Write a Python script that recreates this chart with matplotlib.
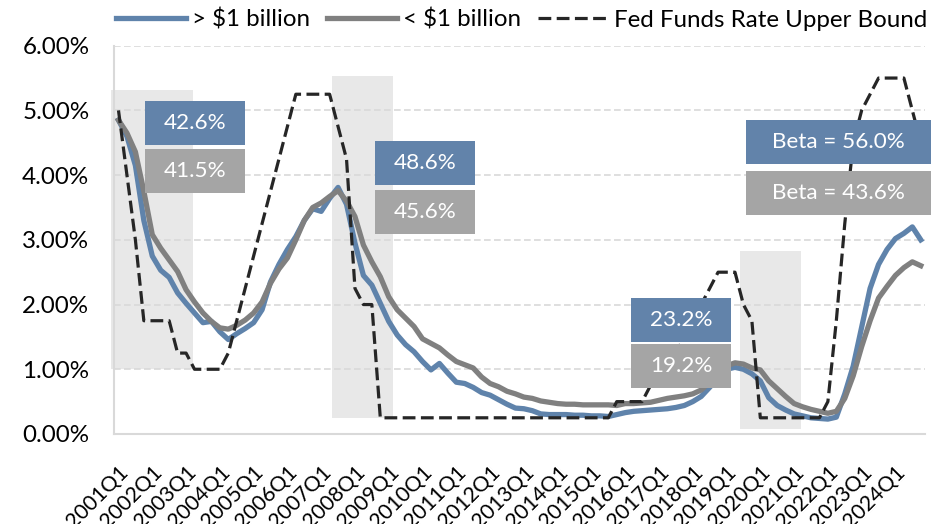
import numpy as np
import matplotlib
matplotlib.use('Agg')
import matplotlib.pyplot as plt
from matplotlib.patches import Rectangle
from matplotlib.ticker import FuncFormatter

plt.rcParams['font.family'] = ['Lato', 'DejaVu Sans']

# DATA (quarterly, 2001Q1 - 2024Q4), values in percent
quarters = [f'{yr}Q{q}' for yr in range(2001, 2025) for q in range(1, 5)]

large_bank = [4.85, 4.60, 4.15, 3.30, 2.75, 2.53, 2.42, 2.18, 2.02, 1.87,
              1.72, 1.74, 1.58, 1.46, 1.55, 1.63, 1.72, 1.92, 2.35, 2.62,
              2.85, 3.05, 3.30, 3.48, 3.44, 3.64, 3.81, 3.55, 2.95, 2.45,
              2.30, 2.02, 1.74, 1.53, 1.38, 1.27, 1.12, 0.99, 1.09, 0.94,
              0.80, 0.78, 0.72, 0.64, 0.60, 0.53, 0.46, 0.40, 0.39, 0.36,
              0.31, 0.30, 0.30, 0.30, 0.29, 0.29, 0.28, 0.28, 0.27, 0.30,
              0.33, 0.35, 0.36, 0.37, 0.38, 0.39, 0.41, 0.44, 0.50, 0.58,
              0.72, 0.87, 1.00, 1.03, 1.00, 0.93, 0.82, 0.56, 0.44, 0.37,
              0.31, 0.28, 0.25, 0.24, 0.23, 0.26, 0.62, 1.05, 1.65, 2.25,
              2.62, 2.85, 3.02, 3.10, 3.20, 3.00]

small_bank = [4.85, 4.65, 4.36, 3.75, 3.08, 2.87, 2.69, 2.51, 2.23, 2.04,
              1.87, 1.74, 1.64, 1.62, 1.68, 1.76, 1.87, 2.04, 2.33, 2.55,
              2.72, 3.00, 3.30, 3.50, 3.57, 3.67, 3.76, 3.60, 3.36, 2.92,
              2.66, 2.43, 2.12, 1.92, 1.79, 1.66, 1.47, 1.40, 1.33, 1.22,
              1.12, 1.07, 1.02, 0.88, 0.78, 0.73, 0.66, 0.62, 0.57, 0.55,
              0.51, 0.49, 0.47, 0.46, 0.46, 0.45, 0.45, 0.45, 0.45, 0.44,
              0.47, 0.47, 0.48, 0.49, 0.52, 0.55, 0.57, 0.59, 0.62, 0.68,
              0.80, 0.92, 1.05, 1.10, 1.08, 1.02, 0.99, 0.82, 0.70, 0.58,
              0.47, 0.42, 0.38, 0.35, 0.32, 0.35, 0.55, 0.90, 1.35, 1.75,
              2.10, 2.28, 2.45, 2.57, 2.66, 2.60]

fed_upper = [5.00, 4.00, 3.00, 1.75, 1.75, 1.75, 1.75, 1.25, 1.25, 1.00,
             1.00, 1.00, 1.00, 1.25, 1.75, 2.25, 2.75, 3.25, 3.75, 4.25,
             4.75, 5.25, 5.25, 5.25, 5.25, 5.25, 4.75, 4.25, 2.25, 2.00,
             2.00, 0.25, 0.25, 0.25, 0.25, 0.25, 0.25, 0.25, 0.25, 0.25,
             0.25, 0.25, 0.25, 0.25, 0.25, 0.25, 0.25, 0.25, 0.25, 0.25,
             0.25, 0.25, 0.25, 0.25, 0.25, 0.25, 0.25, 0.25, 0.25, 0.50,
             0.50, 0.50, 0.50, 0.75, 1.00, 1.25, 1.25, 1.50, 1.75, 2.00,
             2.25, 2.50, 2.50, 2.50, 2.00, 1.75, 0.25, 0.25, 0.25, 0.25,
             0.25, 0.25, 0.25, 0.25, 0.50, 1.75, 3.25, 4.50, 5.00, 5.25,
             5.50, 5.50, 5.50, 5.50, 5.00, 4.50]

# cycle shading (quarter index units, percent)
shade_left = [-0.9, 25.3, 73.6]
shade_right = [8.8, 32.5, 80.8]
shade_bottom = [1.0, 0.24, 0.08]
shade_top = [5.32, 5.53, 2.83]

# beta labels
box_labels_large = ['42.6%', '48.6%', '23.2%', 'Beta = 56.0%']
box_labels_small = ['41.5%', '45.6%', '19.2%', 'Beta = 43.6%']
box_left = [3.1, 30.35, 60.7, 74.35]
box_right = [15.0, 42.2, 72.55, 96.25]
box_top_large = [5.15, 4.53, 2.10, 4.85]
box_top_small = [4.40, 3.77, 1.39, 4.06]
box_height = 0.68

blue = '#5F83AB'
grey = '#808080'

fig = plt.figure(figsize=(9.46, 5.24), dpi=100)
ax = fig.add_axes([0.1208, 0.1718, 0.8570, 0.7410])

x = np.arange(len(quarters))

widths = np.array(shade_right) - np.array(shade_left)
centers = np.array(shade_left) + widths / 2
ax.bar(centers, np.array(shade_top) - np.array(shade_bottom), width=widths,
       bottom=shade_bottom, color='#E8E8E8', zorder=0.2, clip_on=False)

l1, = ax.plot(x, large_bank, color=blue, lw=3.8, solid_joinstyle='round', zorder=3)
l2, = ax.plot(x, small_bank, color=grey, lw=3.8, solid_joinstyle='round', zorder=4)
l3, = ax.plot(x, fed_upper, color='#262626', lw=2.3, dashes=(4, 1.7), zorder=5)

for i in range(len(box_left)):
    w = box_right[i] - box_left[i]
    for top, lab, col in [(box_top_large[i], box_labels_large[i], '#6283AA'),
                          (box_top_small[i], box_labels_small[i], '#A5A5A5')]:
        ax.add_patch(Rectangle((box_left[i], top - box_height), w, box_height,
                               facecolor=col, edgecolor='none', zorder=6, clip_on=False))
        ax.text(box_left[i] + w / 2, top - box_height / 2, lab, color='white',
                ha='center', va='center', fontsize=16.2, zorder=7, clip_on=False)

ax.set_xlim(-0.5, len(quarters) - 0.5)
ax.set_ylim(0, 6)
ax.set_yticks(np.arange(0, 7, 1))
ax.yaxis.set_major_formatter(FuncFormatter(lambda v, _: f'{v:.2f}%'))
ax.set_xticks(x[::4])
ax.set_xticklabels(quarters[::4], rotation=45, ha='right', va='top',
                   rotation_mode='anchor', fontsize=15.3)

ax.set_axisbelow(True)
ax.yaxis.grid(True, color='#D9D9D9', linestyle=(0, (4, 2)), lw=1.2)
for s in ['top', 'right']:
    ax.spines[s].set_visible(False)
for s in ['left', 'bottom']:
    ax.spines[s].set_color('#D9D9D9')
    ax.spines[s].set_linewidth(1.5)
ax.tick_params(axis='both', length=0, colors='black')
ax.tick_params(axis='y', pad=18, labelsize=17.4)
ax.tick_params(axis='x', pad=20.1)

fig.legend([l1, l2, l3], ['> $1 billion', '< $1 billion', 'Fed Funds Rate Upper Bound'],
           loc='center', bbox_to_anchor=(0.5518, 0.962), ncol=3, frameon=False,
           handlelength=2.9, handletextpad=0.25, columnspacing=0.7, fontsize=17.4,
           borderpad=0, borderaxespad=0)

fig.savefig('out.png', dpi=100)
